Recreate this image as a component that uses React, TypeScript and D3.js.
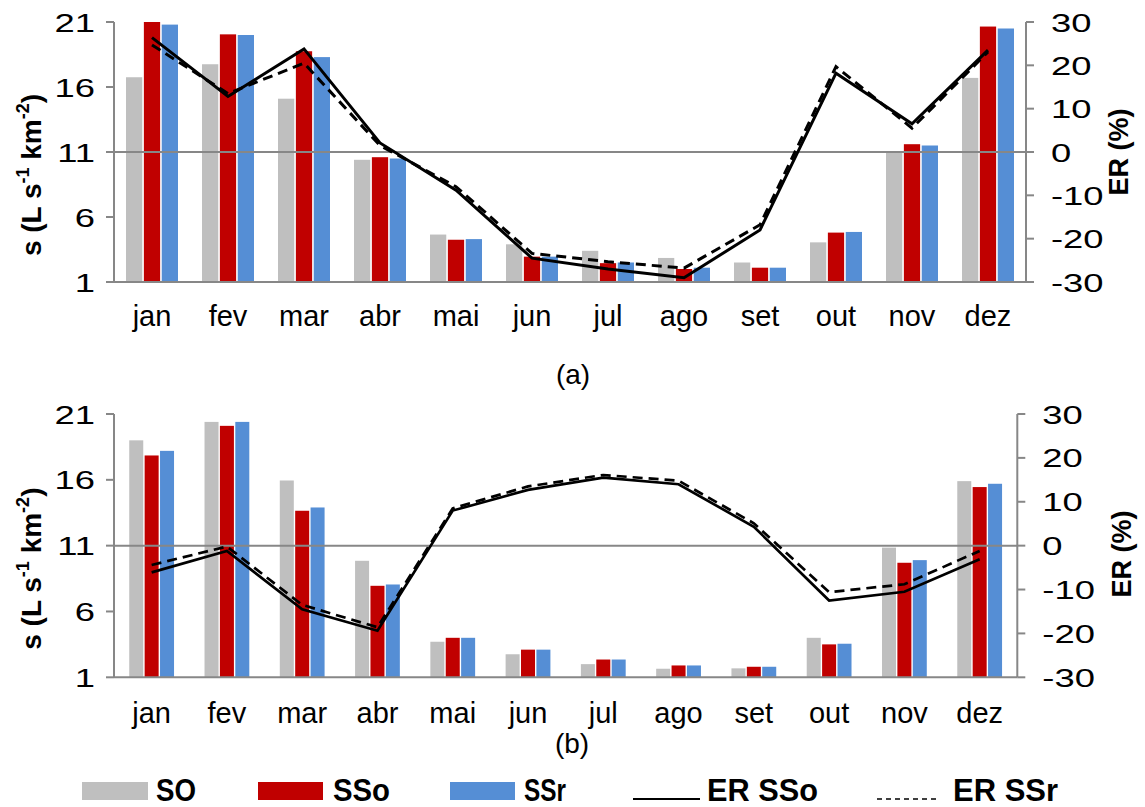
import React from "react";
import * as d3 from "d3";

const months = ["jan", "fev", "mar", "abr", "mai", "jun", "jul", "ago", "set", "out", "nov", "dez"];
const leftTicks = [1, 6, 11, 16, 21];
const rightTicks = [-30, -20, -10, 0, 10, 20, 30];

// Panel (a)
const aSO = [16.75, 17.75, 15.1, 10.4, 4.65, 3.9, 3.4, 2.85, 2.5, 4.05, 10.95, 16.7];
const aSSo = [21.0, 20.05, 18.75, 10.6, 4.25, 2.95, 2.45, 2.0, 2.1, 4.8, 11.6, 20.65];
const aSSr = [20.8, 20.0, 18.3, 10.5, 4.3, 2.95, 2.5, 2.1, 2.1, 4.85, 11.5, 20.5];
const aERSSo = [26.4, 12.8, 23.8, 2.1, -8.8, -24.5, -27.0, -29.0, -18.0, 18.2, 6.5, 23.5];
const aERSSr = [24.7, 13.5, 20.5, 1.5, -8.0, -23.4, -25.3, -26.8, -16.8, 19.7, 5.5, 23.1];

// Panel (b)
const bSO = [19.0, 20.4, 15.95, 9.85, 3.7, 2.75, 2.0, 1.65, 1.68, 4.0, 10.85, 15.9];
const bSSo = [17.85, 20.1, 13.65, 7.95, 4.0, 3.1, 2.35, 1.9, 1.8, 3.5, 9.7, 15.45];
const bSSr = [18.2, 20.4, 13.9, 8.05, 4.0, 3.1, 2.35, 1.9, 1.8, 3.55, 9.9, 15.7];
const bERSSo = [-6.1, -1.2, -14.5, -19.4, 8.0, 12.7, 15.5, 14.0, 4.3, -12.5, -10.5, -3.1];
const bERSSr = [-4.4, -0.2, -13.5, -18.6, 8.5, 13.5, 16.1, 14.8, 5.1, -10.6, -8.8, -1.2];

const seriesNames = ["SO", "SSo", "SSr"];
const colors = ["#BFBFBF", "#C00000", "#558ED5"];
const axisColor = "#878787";
const FONT = "'Liberation Sans', Arial, sans-serif";

type PanelProps = {
  top: number;
  bottom: number;
  left: number;
  right: number;
  so: number[];
  sso: number[];
  ssr: number[];
  erSSo: number[];
  erSSr: number[];
  groupPad: number;
  labelBaseline: number;
  rTitleX: number;
  rTitleY: number;
  lineW: number;
};

function Panel(p: PanelProps) {
  const x = d3.scaleBand<string>().domain(months).range([p.left, p.right]).paddingInner(p.groupPad).paddingOuter(p.groupPad / 2);
  const xi = d3.scaleBand<string>().domain(seriesNames).range([0, x.bandwidth()]).paddingInner(0.09);
  const y = d3.scaleLinear().domain([1, 21]).range([p.bottom, p.top]);
  const yr = d3.scaleLinear().domain([-30, 30]).range([p.bottom, p.top]);
  const cx = (m: string) => (x(m) as number) + x.bandwidth() / 2;
  const vals = [p.so, p.sso, p.ssr];
  const line = d3
    .line<number>()
    .x((_, i) => cx(months[i]))
    .y((d) => yr(d));
  const mid = (p.top + p.bottom) / 2;
  return (
    <g>
      {vals.map((arr, s) =>
        arr.map((v, i) => (
          <rect
            key={`${s}-${i}`}
            x={(x(months[i]) as number) + (xi(seriesNames[s]) as number)}
            y={y(v)}
            width={xi.bandwidth()}
            height={y(1) - y(v)}
            fill={colors[s]}
          />
        ))
      )}
      <line x1={p.left} x2={p.right} y1={yr(0)} y2={yr(0)} stroke={axisColor} strokeWidth={2} />
      <line x1={p.left} x2={p.right} y1={p.bottom} y2={p.bottom} stroke={axisColor} strokeWidth={2} />
      <line x1={p.left} x2={p.left} y1={p.top} y2={p.bottom} stroke={axisColor} strokeWidth={2} />
      {leftTicks.map((t) => (
        <g key={`l${t}`}>
          <line x1={p.left - 8} x2={p.left} y1={y(t)} y2={y(t)} stroke={axisColor} strokeWidth={2} />
          <text
            transform={`translate(${p.left - 19},${y(t) + 9.5}) scale(1.4,1)`}
            textAnchor="end"
            fontSize={26}
            fontFamily={FONT}
            fill="#000"
          >
            {t}
          </text>
        </g>
      ))}
      <line x1={p.right} x2={p.right} y1={p.top} y2={p.bottom} stroke={axisColor} strokeWidth={2} />
      {rightTicks.map((t) => (
        <g key={`r${t}`}>
          <line x1={p.right} x2={p.right + 8} y1={yr(t)} y2={yr(t)} stroke={axisColor} strokeWidth={2} />
          <text
            transform={`translate(${p.right + 25},${yr(t) + 9.5}) scale(1.4,1)`}
            textAnchor="start"
            fontSize={26}
            fontFamily={FONT}
            fill="#000"
          >
            {t < 0 ? `-${Math.abs(t)}` : t}
          </text>
        </g>
      ))}
      {months.map((m) => (
        <text key={m} x={cx(m)} y={p.labelBaseline} textAnchor="middle" fontSize={29} fontFamily={FONT} fill="#000">
          {m}
        </text>
      ))}
      <path d={line(p.erSSo) || ""} fill="none" stroke="#000" strokeWidth={p.lineW} strokeLinejoin="miter" />
      <path d={line(p.erSSr) || ""} fill="none" stroke="#000" strokeWidth={p.lineW} strokeDasharray="10,6" />
      <text
        transform={`translate(41,${mid + 23}) rotate(-90)`}
        textAnchor="middle"
        fontSize={28}
        fontWeight="bold"
        fontFamily={FONT}
        fill="#000"
      >
        s (L s<tspan fontSize={18} dy={-12}>-1</tspan>
        <tspan dy={12}> km</tspan>
        <tspan fontSize={18} dy={-12}>-2</tspan>
        <tspan dy={12}>)</tspan>
      </text>
      <text
        transform={`translate(${p.rTitleX},${p.rTitleY}) rotate(-90)`}
        textAnchor="middle"
        fontSize={27}
        fontWeight="bold"
        fontFamily={FONT}
        fill="#000"
      >
        ER (%)
      </text>
    </g>
  );
}

export default function App() {
  return (
    <svg width={1145} height={807} style={{ display: "block", position: "absolute", left: 0, top: 0 }}>
      <rect x={0} y={0} width={1145} height={807} fill="#fff" />
      <Panel
        top={22}
        bottom={282}
        left={114}
        right={1026}
        so={aSO}
        sso={aSSo}
        ssr={aSSr}
        erSSo={aERSSo}
        erSSr={aERSSr}
        groupPad={0.316}
        labelBaseline={326}
        rTitleX={1128}
        rTitleY={152}
        lineW={3}
      />
      <text x={573} y={384} textAnchor="middle" fontSize={28} fontFamily={FONT}>
        (a)
      </text>
      <Panel
        top={414}
        bottom={677.3}
        left={114}
        right={1017.3}
        so={bSO}
        sso={bSSo}
        ssr={bSSr}
        erSSo={bERSSo}
        erSSr={bERSSr}
        groupPad={0.405}
        labelBaseline={723}
        rTitleX={1131}
        rTitleY={554}
        lineW={2.7}
      />
      <text x={572} y={753} textAnchor="middle" fontSize={28} fontFamily={FONT}>
        (b)
      </text>
      <g fontFamily={FONT} fontWeight="bold" fontSize={32}>
        <rect x={82} y={782} width={66} height={18} fill={colors[0]} />
        <text x={156} y={801} textLength={40} lengthAdjust="spacingAndGlyphs">SO</text>
        <rect x={258} y={782} width={65} height={18} fill={colors[1]} />
        <text x={333} y={801} textLength={57} lengthAdjust="spacingAndGlyphs">SSo</text>
        <rect x={450} y={782} width={65} height={18} fill={colors[2]} />
        <text x={524} y={801} textLength={42} lengthAdjust="spacingAndGlyphs">SSr</text>
        <line x1={633} x2={700} y1={799} y2={799} stroke="#000" strokeWidth={2} />
        <text x={707} y={801} textLength={111} lengthAdjust="spacingAndGlyphs">ER SSo</text>
        <line x1={877} x2={940} y1={799} y2={799} stroke="#000" strokeWidth={1.5} strokeDasharray="5,4" />
        <text x={953} y={801} textLength={105} lengthAdjust="spacingAndGlyphs">ER SSr</text>
      </g>
    </svg>
  );
}
